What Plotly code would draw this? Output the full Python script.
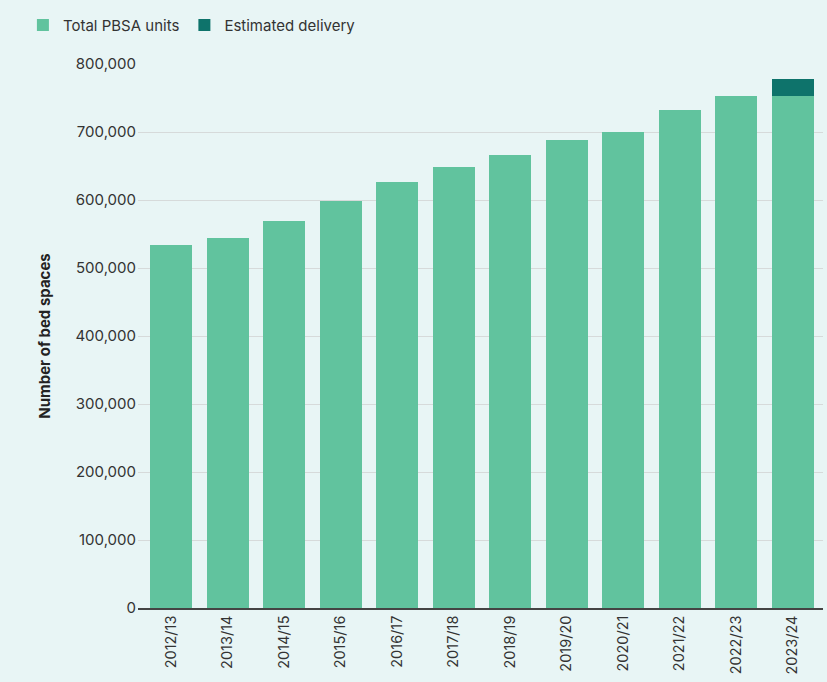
import plotly.graph_objects as go

years = ["2012/13", "2013/14", "2014/15", "2015/16", "2016/17", "2017/18",
         "2018/19", "2019/20", "2020/21", "2021/22", "2022/23", "2023/24"]
total_pbsa = [534000, 544000, 569000, 598000, 626000, 648000,
              666000, 688000, 700000, 733000, 753000, 753000]
estimated_delivery = [0, 0, 0, 0, 0, 0, 0, 0, 0, 0, 0, 25000]
y_ticks = [0, 100000, 200000, 300000, 400000, 500000, 600000, 700000, 800000]

BG = "#e8f5f5"
LIGHT = "#61c39e"
DARK = "#0e736b"
GRID = "#d6dada"
TEXT = "#333333"

fig = go.Figure()
fig.add_trace(go.Bar(x=years, y=total_pbsa, name="Total PBSA units",
                     marker=dict(color=LIGHT, line=dict(width=0))))
fig.add_trace(go.Bar(x=years, y=estimated_delivery, name="Estimated delivery",
                     marker=dict(color=DARK, line=dict(width=0))))

fig.update_layout(
    width=827, height=682,
    barmode="stack",
    bargap=0.256,
    paper_bgcolor=BG,
    plot_bgcolor=BG,
    font=dict(family="Inter", size=14, color=TEXT),
    margin=dict(l=138, r=4, t=64, b=74, autoexpand=False),
    showlegend=True,
    legend=dict(orientation="h", x=-0.168, y=1.1015, xanchor="left", yanchor="top",
                font=dict(size=15, color=TEXT), traceorder="normal",
                itemwidth=30, bgcolor="rgba(0,0,0,0)"),
)

fig.update_xaxes(
    type="category",
    range=[-0.59, 11.54],
    tickangle=-90,
    tickfont=dict(size=14.5, color=TEXT),
    showline=True, linecolor="#444444", linewidth=1.5,
    ticks="", showgrid=False,
)

fig.update_yaxes(
    range=[0, 800000],
    tickvals=y_ticks,
    tickformat=",d",
    tickfont=dict(size=15, color=TEXT),
    showgrid=True, gridcolor=GRID, gridwidth=1,
    zeroline=False,
    ticks="", ticklabelstandoff=1,
    title=dict(text="<b>Number of bed spaces</b>", font=dict(size=15, color="#222222"),
               standoff=21),
)

fig.write_html("out.html")
